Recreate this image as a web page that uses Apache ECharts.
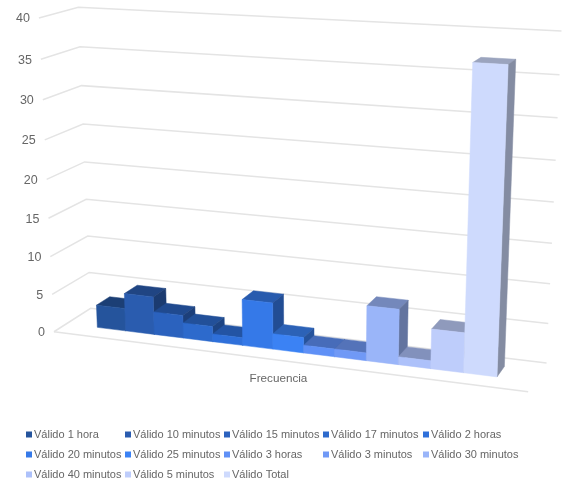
<!DOCTYPE html>
<html>
<head>
<meta charset="utf-8">
<style>html,body{margin:0;padding:0;background:#fff}#chart{width:565px;height:481px}</style>
<script src="https://cdn.jsdelivr.net/npm/echarts@6/dist/echarts.min.js"></script>
</head>
<body>
<div id="chart"></div>
<script>
const categories = ['Frecuencia'];
const seriesNames = ['Válido 1 hora','Válido 10 minutos','Válido 15 minutos','Válido 17 minutos','Válido 2 horas','Válido 20 minutos','Válido 25 minutos','Válido 3 horas','Válido 3 minutos','Válido 30 minutos','Válido 40 minutos','Válido 5 minutos','Válido Total'];
const seriesValues = [3,5,3,2,1,6,2,1,1,7,1,5,37];
const seriesColors = ['#25549C','#2A5CAF','#2B62BE','#2D6ACC','#2F70DA','#3579E8','#3B82F4','#5F90F6','#7099F6','#9AB5F9','#ADC1FA','#BECDFB','#CEDAFD'];
const yTicks = [0,5,10,15,20,25,30,35,40];
const legendColumns = [[0,5,10],[1,6,11],[2,7,12],[3,8],[4,9]];
const legendLefts = [26,125,224,323,423];

// Reference points of the box: [u, v, w] in box space -> [x, y] on the page.
const boxAnchors = [
  [0,0,0,54,332],[1,0,0,528,392],[0,0,1,90,308],[1,0,1,547,363],
  [0,1,0,39,18],[0,1,1,78,7],[1,1,1,562,31],
  [0,.125,0,52,294],[0,.125,1,90,273],[1,.125,1,548,323],
  [0,.875,0,41,59],[0,.875,1,80,47],[1,.875,1,559,75]
];

// Least-squares fit of the projective camera (11 unknowns, last term fixed to 1).
function fitCamera(pts) {
  const n = 11, A = Array.from({length:n}, () => new Array(n + 1).fill(0));
  const add = (row, rhs) => {
    for (let i = 0; i < n; i++) {
      for (let j = 0; j < n; j++) A[i][j] += row[i] * row[j];
      A[i][n] += row[i] * rhs;
    }
  };
  pts.forEach(([u, v, w, x, y]) => {
    add([u,v,w,1,0,0,0,0,-x*u,-x*v,-x*w], x);
    add([0,0,0,0,u,v,w,1,-y*u,-y*v,-y*w], y);
  });
  for (let c = 0; c < n; c++) {
    let p = c;
    for (let r = c + 1; r < n; r++) if (Math.abs(A[r][c]) > Math.abs(A[p][c])) p = r;
    [A[c], A[p]] = [A[p], A[c]];
    for (let r = 0; r < n; r++) {
      if (r === c) continue;
      const f = A[r][c] / A[c][c];
      for (let k = c; k <= n; k++) A[r][k] -= f * A[c][k];
    }
  }
  return A.map((row, i) => row[n] / row[i]);
}
const cam = fitCamera(boxAnchors);
function project(u, v, w) {
  const d = cam[8]*u + cam[9]*v + cam[10]*w + 1;
  return [(cam[0]*u + cam[1]*v + cam[2]*w + cam[3]) / d,
          (cam[4]*u + cam[5]*v + cam[6]*w + cam[7]) / d];
}

const W = 565, H = 481;
const toU = px => px / W;
const toV = py => 1 - py / H;
const clusterStart = 0.072, clusterShare = 0.855;
const depthFront = 0.34, depthBack = 0.71;

function shade(hex, k) {
  const n = parseInt(hex.slice(1), 16);
  const c = [n >> 16, (n >> 8) & 255, n & 255].map(x => Math.round(x * k));
  return `rgb(${c[0]},${c[1]},${c[2]})`;
}

// One bar: front, top and right faces of a box sitting on the floor.
function renderBar(params, api) {
  const idx = params.seriesIndex - 1;
  const base = api.coord([0, 0]);
  const top = api.coord([0, api.value(1)]);
  const band = api.size([1, 0])[0];
  const v1 = toV(top[1]), v0 = toV(base[1]);
  const bw = toU(band) * clusterShare / seriesNames.length;
  const u0 = toU(base[0] - band / 2) + clusterStart + bw * idx, u1 = u0 + bw;
  const color = seriesColors[idx];
  const poly = (pts, fill) => ({
    type: 'polygon',
    shape: {points: pts.map(p => project(p[0], p[1], p[2]))},
    style: {fill: fill, stroke: fill, lineWidth: 0.5}
  });
  return {type: 'group', children: [
    poly([[u0,v1,depthFront],[u0,v1,depthBack],[u1,v1,depthBack],[u1,v1,depthFront]], shade(color, 0.75)),
    poly([[u1,v0,depthFront],[u1,v1,depthFront],[u1,v1,depthBack],[u1,v0,depthBack]], shade(color, 0.64)),
    poly([[u0,v0,depthFront],[u1,v0,depthFront],[u1,v1,depthFront],[u0,v1,depthFront]], color)
  ]};
}

// Walls, floor edge and tick labels of the box.
function renderFrame(params, api) {
  const v = toV(api.coord([0, api.value(0)])[1]);
  const tick = api.value(0);
  const a = project(0, v, 0), b = project(0, v, 1), c = project(1, v, 1);
  const children = [{
    type: 'polyline',
    shape: {points: [a, b, c]},
    style: {stroke: '#e4e4e4', lineWidth: 1.5, fill: 'none'}
  }, {
    type: 'text',
    style: {x: a[0] - 9, y: a[1] + 1, text: String(tick), align: 'right', verticalAlign: 'middle',
            font: '12.5px "Liberation Sans"', fill: '#666666'}
  }];
  if (tick === 0) {
    children.push({
      type: 'line',
      shape: {x1: a[0], y1: a[1], x2: project(1, v, 0)[0], y2: project(1, v, 0)[1]},
      style: {stroke: '#e4e4e4', lineWidth: 1.5}
    });
    const mid = project(toU(api.coord([0, 0])[0]), v, 0);
    children.push({
      type: 'text',
      style: {x: mid[0], y: mid[1] + 19, text: categories[0], align: 'center', verticalAlign: 'middle',
              font: '11.7px "Liberation Sans"', fill: '#666666'}
    });
  }
  return {type: 'group', children};
}

const chart = echarts.init(document.getElementById('chart'), null, {renderer: 'canvas'});
chart.setOption({
  animation: false,
  backgroundColor: '#ffffff',
  grid: {left: 0, right: 0, top: 0, bottom: 0},
  xAxis: {type: 'category', data: categories, show: false},
  yAxis: {type: 'value', min: 0, max: 40, interval: 5, show: false},
  legend: legendColumns.map((col, i) => ({
    orient: 'vertical',
    left: legendLefts[i],
    top: 428,
    padding: 0,
    icon: 'rect',
    itemWidth: 6,
    itemHeight: 6,
    itemGap: 7,
    selectedMode: false,
    data: col.map(k => seriesNames[k]),
    textStyle: {color: '#666666', fontFamily: 'Liberation Sans', fontSize: 11, lineHeight: 13, padding: [0, 0, 0, -3]}
  })),
  series: [{
    type: 'custom',
    name: 'frame',
    silent: true,
    renderItem: renderFrame,
    data: yTicks.map(t => [t]),
    encode: {y: 0}
  }].concat(seriesNames.map((name, i) => ({
    type: 'custom',
    name: name,
    silent: true,
    itemStyle: {color: seriesColors[i]},
    renderItem: renderBar,
    data: [[0, seriesValues[i]]],
    encode: {x: 0, y: 1}
  })))
});
</script>
</body>
</html>
